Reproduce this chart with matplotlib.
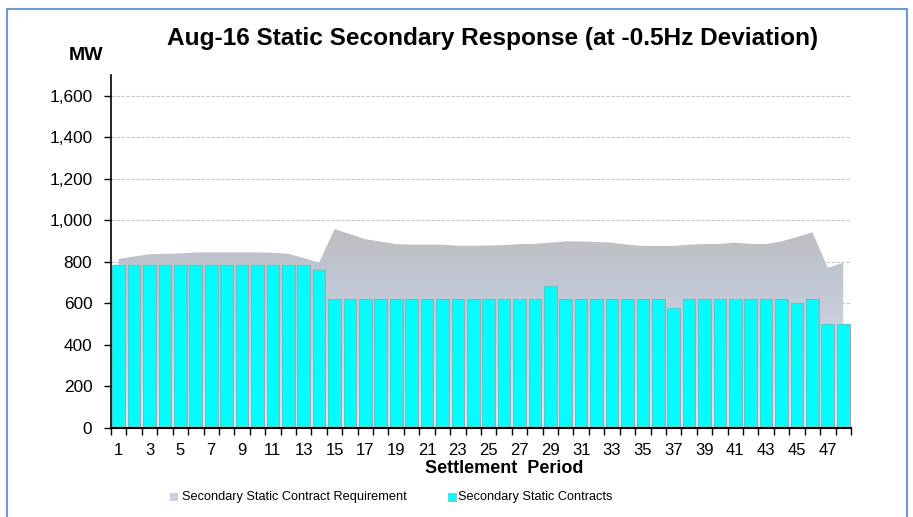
import numpy as np
import matplotlib
matplotlib.use("Agg")
import matplotlib.pyplot as plt
from matplotlib.patches import Polygon, Rectangle
from matplotlib.colors import to_rgb
from matplotlib.ticker import FuncFormatter

plt.rcParams['font.family'] = ['Liberation Sans', 'DejaVu Sans']

periods = list(range(1, 49))

# Secondary Static Contracts (MW)
contracts = [785] * 13 + [762] + [620] * 14 + [681] + [620] * 7 + [577] + [620] * 7 + [600, 620, 498, 498]

# Secondary Static Contract Requirement (MW)
requirement = [813, 825, 836, 838, 840, 845, 845, 845, 845, 845, 843, 838,
               818, 795, 957, 933, 908, 897, 885, 882, 882, 882, 877, 877,
               878, 880, 885, 886, 892, 898, 898, 895, 892, 882, 876, 876,
               876, 882, 885, 886, 892, 886, 885, 898, 919, 942, 771, 795]

y_ticks = [0, 200, 400, 600, 800, 1000, 1200, 1400, 1600]
x_labels = [str(p) for p in periods[::2]]

fig = plt.figure(figsize=(9.13, 5.17), dpi=100)
ax = fig.add_axes([0.1216, 0.1727, 0.8104, 0.6823])

# gridlines behind everything
for yv in y_ticks[1:]:
    ax.axhline(yv, color='#c4c4c4', lw=0.8, ls=(0, (3, 1.5)), zorder=0)

# requirement area with vertical gradient
verts = [(periods[0], 0)] + list(zip(periods, requirement)) + [(periods[-1], 0)]
patch = Polygon(verts, closed=True, facecolor='none', edgecolor='none')
ax.add_patch(patch)
ys = np.linspace(0, 1000, 300)
stops_y = [0, 700, 1000]
stops_c = [to_rgb('#e4eaf5'), to_rgb('#c0c6d4'), to_rgb('#bdbdbd')]
img = np.zeros((len(ys), 1, 3))
for ch in range(3):
    img[:, 0, ch] = np.interp(ys, stops_y, [c[ch] for c in stops_c])
im = ax.imshow(img, extent=[0.5, 48.5, 0, 1000], origin='lower', aspect='auto', zorder=1)
im.set_clip_path(patch)

# contract bars
ax.bar(periods, contracts, width=0.82, color='#00ffff', edgecolor='#8fb0b4', lw=0.8, zorder=2)

ax.set_xlim(0.5, 48.5)
ax.set_ylim(0, 1700)
ax.set_yticks(y_ticks)
ax.yaxis.set_major_formatter(FuncFormatter(lambda v, p: f'{int(v):,}'))
ax.set_xticks(periods[::2])
ax.set_xticklabels(x_labels)
ax.set_xticks(np.arange(0.5, 49, 1), minor=True)
ax.tick_params(axis='x', which='major', length=0, labelsize=12, pad=11)
ax.tick_params(axis='x', which='minor', length=5, width=1, direction='out')
ax.tick_params(axis='y', length=5, width=1, labelsize=12.4, pad=8.5)
for s in ['top', 'right']:
    ax.spines[s].set_visible(False)
ax.spines['left'].set_linewidth(1.2)
ax.spines['bottom'].set_linewidth(1.5)

ax.set_xlabel('Settlement  Period', fontsize=13, fontweight='bold')
ax.xaxis.set_label_coords((504 - 111) / 740, (427.7 - 460) / (427.7 - 75))

fig.text(492.5 / 913, 1 - 45 / 517, 'Aug-16 Static Secondary Response (at -0.5Hz Deviation)',
         ha='center', va='baseline', fontsize=17.6, fontweight='bold')
fig.text(86.5 / 913, 1 - 60 / 517, 'MW', ha='center', va='baseline', fontsize=14, fontweight='bold')

# legend
fig.add_artist(Rectangle((170 / 913, 1 - 501 / 517), 8 / 913, 8 / 517,
                         transform=fig.transFigure, facecolor='#c8d0e0', edgecolor='none'))
fig.text(182 / 913, 1 - 497 / 517, 'Secondary Static Contract Requirement',
         ha='left', va='center', fontsize=9.2)
fig.add_artist(Rectangle((448 / 913, 1 - 501 / 517), 8 / 913, 8 / 517,
                         transform=fig.transFigure, facecolor='#00ffff', edgecolor='#8fb0b4', lw=0.5))
fig.text(458 / 913, 1 - 497 / 517, 'Secondary Static Contracts',
         ha='left', va='center', fontsize=9.2)

# blue frame
fig.add_artist(Rectangle((7 / 913, -0.05), 900 / 913, 1.05 - 9 / 517,
                         transform=fig.transFigure, facecolor='none', edgecolor='#6a9ad8', lw=1.5))

fig.savefig('out.png', dpi=100)
